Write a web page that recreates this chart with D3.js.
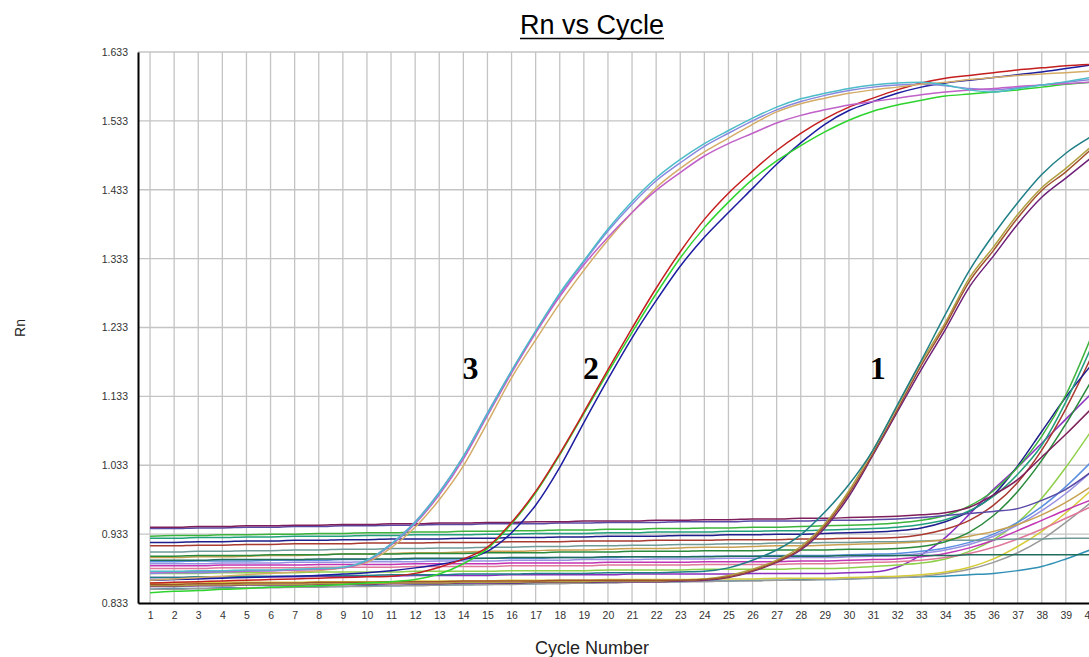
<!DOCTYPE html>
<html><head><meta charset="utf-8">
<script src="https://cdn.jsdelivr.net/npm/d3@7"></script>
<style>
body{margin:0;background:#fff;}
svg{display:block;font-family:"Liberation Sans",Arial,sans-serif;}
</style>
</head><body>
<svg id="chart" width="1089" height="657"></svg>
<script>
// ---------- DATA ----------
const cycles = [1,2,3,4,5,6,7,8,9,10,11,12,13,14,15,16,17,18,19,20,21,22,23,24,25,26,27,28,29,30,31,32,33,34,35,36,37,38,39,40];
const yTickValues = [0.833,0.933,1.033,1.133,1.233,1.333,1.433,1.533,1.633];
const yTickLabels = ["0.833","0.933","1.033","1.133","1.233","1.333","1.433","1.533","1.633"];
const groupLabels = ["3","2","1"];
const groupLabelCycles = [14.3, 19.3, 31.2];
const groupLabelValue = 1.158;

// baseline / late curves
const bMaroonTop = [0.943,0.943,0.944,0.944,0.945,0.945,0.946,0.946,0.947,0.947,0.948,0.948,0.949,0.949,0.950,0.950,0.951,0.951,0.952,0.952,0.952,0.953,0.953,0.954,0.954,0.955,0.955,0.956,0.956,0.957,0.958,0.959,0.961,0.964,0.972,0.990,1.012,1.045,1.078,1.113];
const bSlate = [0.941,0.941,0.942,0.942,0.943,0.943,0.944,0.944,0.945,0.945,0.946,0.946,0.947,0.947,0.948,0.948,0.948,0.949,0.949,0.950,0.950,0.950,0.951,0.951,0.951,0.952,0.952,0.952,0.953,0.953,0.954,0.955,0.957,0.960,0.963,0.966,0.970,0.982,0.998,1.022];
const bGreen = [0.930,0.931,0.931,0.932,0.932,0.933,0.933,0.934,0.934,0.935,0.935,0.936,0.936,0.937,0.937,0.938,0.938,0.939,0.939,0.940,0.940,0.941,0.941,0.942,0.942,0.943,0.943,0.944,0.945,0.946,0.947,0.949,0.953,0.960,0.974,0.996,1.030,1.075,1.135,1.215];
const bTealGreen = [0.927,0.927,0.928,0.928,0.929,0.929,0.930,0.930,0.930,0.931,0.931,0.932,0.932,0.932,0.933,0.933,0.934,0.934,0.934,0.935,0.935,0.936,0.936,0.936,0.937,0.937,0.938,0.938,0.939,0.940,0.941,0.943,0.947,0.954,0.967,0.988,1.020,1.062,1.125,1.200];
const bNavy = [0.921,0.921,0.922,0.922,0.923,0.923,0.924,0.924,0.925,0.925,0.926,0.926,0.926,0.927,0.927,0.928,0.928,0.929,0.929,0.930,0.930,0.930,0.931,0.931,0.932,0.932,0.933,0.933,0.934,0.935,0.936,0.938,0.942,0.951,0.966,0.990,1.032,1.082,1.132,1.176];
const bRedBrown = [0.916,0.916,0.917,0.917,0.918,0.918,0.919,0.919,0.919,0.920,0.920,0.920,0.921,0.921,0.921,0.922,0.922,0.922,0.923,0.923,0.923,0.924,0.924,0.924,0.925,0.925,0.925,0.926,0.926,0.927,0.927,0.928,0.932,0.940,0.953,0.975,1.008,1.055,1.115,1.186];
const bDarkGreen = [0.901,0.901,0.902,0.902,0.902,0.903,0.903,0.903,0.904,0.904,0.904,0.905,0.905,0.905,0.906,0.906,0.906,0.907,0.907,0.907,0.908,0.908,0.908,0.909,0.909,0.909,0.910,0.910,0.910,0.911,0.911,0.912,0.915,0.922,0.936,0.960,0.995,1.040,1.093,1.152];
const bTan = [0.899,0.899,0.900,0.900,0.901,0.902,0.902,0.903,0.904,0.904,0.905,0.906,0.906,0.907,0.908,0.908,0.909,0.910,0.910,0.911,0.912,0.912,0.913,0.914,0.914,0.915,0.916,0.916,0.917,0.918,0.919,0.920,0.922,0.925,0.930,0.937,0.947,0.961,0.979,1.001];
const bGrayTeal = [0.907,0.907,0.908,0.908,0.909,0.909,0.910,0.910,0.911,0.911,0.912,0.912,0.913,0.913,0.914,0.914,0.915,0.915,0.916,0.916,0.917,0.917,0.918,0.918,0.919,0.919,0.920,0.920,0.921,0.921,0.922,0.922,0.923,0.924,0.924,0.925,0.926,0.926,0.927,0.927];
const bLightBlue = [0.893,0.893,0.894,0.894,0.894,0.895,0.895,0.895,0.896,0.896,0.896,0.897,0.897,0.897,0.898,0.898,0.898,0.899,0.899,0.899,0.900,0.900,0.900,0.901,0.901,0.901,0.902,0.902,0.902,0.903,0.904,0.905,0.908,0.913,0.921,0.933,0.950,0.973,1.002,1.036];
const bLavender = [0.890,0.890,0.890,0.891,0.891,0.891,0.892,0.892,0.892,0.893,0.893,0.893,0.894,0.894,0.894,0.895,0.895,0.895,0.896,0.896,0.896,0.897,0.897,0.897,0.898,0.898,0.898,0.899,0.899,0.900,0.901,0.902,0.905,0.910,0.918,0.930,0.946,0.967,0.992,1.022];
const bMagenta = [0.887,0.887,0.887,0.888,0.888,0.888,0.888,0.889,0.889,0.889,0.889,0.890,0.890,0.890,0.890,0.891,0.891,0.891,0.891,0.892,0.892,0.892,0.892,0.893,0.893,0.893,0.893,0.894,0.894,0.895,0.896,0.897,0.900,0.905,0.913,0.924,0.938,0.953,0.968,0.982];
const bPink = [0.883,0.883,0.883,0.884,0.884,0.884,0.884,0.885,0.885,0.885,0.885,0.886,0.886,0.886,0.886,0.887,0.887,0.887,0.887,0.888,0.888,0.888,0.888,0.889,0.889,0.889,0.889,0.890,0.890,0.891,0.892,0.893,0.895,0.899,0.905,0.914,0.926,0.940,0.956,0.972];
const bDarkGreenFlat = [0.895,0.895,0.895,0.896,0.896,0.896,0.896,0.897,0.897,0.897,0.897,0.898,0.898,0.898,0.898,0.899,0.899,0.899,0.899,0.900,0.900,0.900,0.900,0.900,0.901,0.901,0.901,0.901,0.901,0.902,0.902,0.902,0.902,0.902,0.903,0.903,0.903,0.903,0.903,0.903];
const bLightGreen = [0.876,0.876,0.876,0.877,0.877,0.877,0.877,0.878,0.878,0.878,0.878,0.879,0.879,0.879,0.879,0.880,0.880,0.880,0.880,0.881,0.881,0.881,0.881,0.882,0.882,0.882,0.882,0.883,0.883,0.884,0.886,0.888,0.891,0.897,0.908,0.925,0.950,0.985,1.030,1.080];
const bViolet = [0.870,0.870,0.870,0.871,0.871,0.871,0.871,0.872,0.872,0.872,0.872,0.873,0.873,0.873,0.873,0.874,0.874,0.874,0.874,0.874,0.875,0.875,0.875,0.875,0.875,0.876,0.876,0.876,0.876,0.877,0.878,0.885,0.903,0.928,0.962,0.998,1.030,1.065,1.100,1.135];
const bYellow = [0.862,0.862,0.862,0.863,0.863,0.863,0.863,0.864,0.864,0.864,0.864,0.865,0.865,0.865,0.865,0.866,0.866,0.866,0.866,0.867,0.867,0.867,0.867,0.868,0.868,0.868,0.869,0.869,0.869,0.870,0.871,0.872,0.874,0.878,0.885,0.897,0.915,0.937,0.964,0.995];
const bGray = [0.853,0.853,0.854,0.854,0.855,0.855,0.856,0.856,0.857,0.857,0.858,0.858,0.859,0.859,0.860,0.860,0.861,0.861,0.862,0.862,0.863,0.863,0.864,0.864,0.865,0.865,0.866,0.866,0.867,0.868,0.869,0.870,0.872,0.876,0.882,0.892,0.906,0.925,0.950,0.978];
const bTealBlue = [0.853,0.854,0.854,0.855,0.855,0.856,0.856,0.857,0.857,0.858,0.858,0.859,0.859,0.860,0.860,0.861,0.861,0.862,0.862,0.863,0.863,0.864,0.864,0.865,0.865,0.866,0.866,0.867,0.867,0.868,0.869,0.870,0.871,0.872,0.874,0.876,0.880,0.886,0.897,0.910];

// group 1 (late amplification)
const g1Teal = [0.870,0.870,0.871,0.871,0.872,0.872,0.872,0.873,0.873,0.873,0.874,0.874,0.874,0.875,0.875,0.875,0.876,0.876,0.876,0.877,0.877,0.877,0.878,0.879,0.884,0.895,0.910,0.932,0.965,1.005,1.055,1.120,1.185,1.252,1.316,1.368,1.414,1.455,1.486,1.509];
const g1Brown = [0.860,0.860,0.861,0.861,0.862,0.862,0.862,0.863,0.863,0.863,0.864,0.864,0.864,0.865,0.865,0.865,0.865,0.866,0.866,0.866,0.866,0.866,0.866,0.867,0.871,0.880,0.893,0.912,0.945,0.992,1.050,1.113,1.178,1.236,1.300,1.345,1.392,1.432,1.459,1.490];
const g1Olive = [0.858,0.858,0.859,0.859,0.860,0.860,0.860,0.861,0.861,0.861,0.862,0.862,0.862,0.863,0.863,0.863,0.864,0.864,0.864,0.865,0.865,0.865,0.866,0.868,0.873,0.882,0.895,0.915,0.948,0.996,1.055,1.118,1.183,1.240,1.305,1.350,1.397,1.436,1.464,1.494];
const g1Purple = [0.857,0.857,0.858,0.858,0.859,0.859,0.859,0.860,0.860,0.860,0.861,0.861,0.861,0.862,0.862,0.862,0.863,0.863,0.863,0.864,0.864,0.864,0.865,0.866,0.870,0.879,0.892,0.910,0.942,0.988,1.048,1.110,1.172,1.230,1.292,1.337,1.383,1.422,1.450,1.478];

// group 2
const g2Red = [0.862,0.863,0.864,0.865,0.866,0.867,0.868,0.869,0.870,0.871,0.872,0.876,0.885,0.897,0.914,0.950,0.995,1.050,1.110,1.172,1.232,1.290,1.343,1.390,1.428,1.460,1.490,1.515,1.536,1.553,1.566,1.578,1.588,1.595,1.599,1.603,1.607,1.610,1.613,1.615];
const g2Green = [0.848,0.850,0.851,0.853,0.854,0.856,0.857,0.858,0.860,0.862,0.864,0.867,0.875,0.890,0.912,0.948,0.993,1.048,1.108,1.168,1.226,1.282,1.334,1.378,1.415,1.448,1.475,1.497,1.517,1.534,1.547,1.556,1.563,1.569,1.572,1.575,1.578,1.582,1.586,1.589];
const g2Navy = [0.866,0.867,0.868,0.869,0.870,0.871,0.872,0.873,0.875,0.877,0.880,0.884,0.889,0.896,0.908,0.935,0.975,1.030,1.095,1.158,1.218,1.272,1.322,1.364,1.400,1.435,1.470,1.501,1.528,1.548,1.561,1.573,1.582,1.588,1.592,1.596,1.600,1.604,1.609,1.614];

// group 3
const g3Lavender = [0.876,0.877,0.877,0.878,0.879,0.880,0.881,0.882,0.884,0.895,0.919,0.951,0.994,1.046,1.109,1.170,1.227,1.281,1.328,1.373,1.412,1.446,1.472,1.496,1.515,1.533,1.549,1.561,1.570,1.577,1.582,1.585,1.586,1.584,1.580,1.578,1.581,1.585,1.589,1.593];
const g3Tan = [0.866,0.868,0.870,0.872,0.874,0.876,0.878,0.880,0.884,0.892,0.913,0.943,0.983,1.032,1.095,1.160,1.215,1.268,1.316,1.360,1.400,1.436,1.464,1.488,1.508,1.528,1.546,1.558,1.566,1.573,1.578,1.582,1.586,1.589,1.593,1.596,1.599,1.601,1.603,1.605];
const g3Orchid = [0.878,0.878,0.879,0.879,0.880,0.880,0.881,0.882,0.884,0.894,0.917,0.948,0.990,1.042,1.105,1.167,1.225,1.278,1.324,1.364,1.400,1.432,1.458,1.482,1.500,1.515,1.530,1.541,1.549,1.556,1.561,1.566,1.571,1.575,1.578,1.580,1.583,1.585,1.587,1.589];
const g3Cyan = [0.879,0.879,0.880,0.880,0.881,0.881,0.882,0.883,0.885,0.895,0.918,0.950,0.993,1.046,1.108,1.170,1.228,1.283,1.330,1.376,1.416,1.450,1.477,1.500,1.519,1.537,1.553,1.565,1.573,1.580,1.585,1.588,1.589,1.585,1.578,1.575,1.580,1.585,1.590,1.596];

// drawing order and colours (styles kept apart from the data)
const curves = [
  [bTealBlue,"#2f8fb5"],[bGray,"#9a9a9a"],[bYellow,"#d6cc3a"],[bViolet,"#8a2fbf"],[bLightGreen,"#8fd04a"],
  [bPink,"#e0789c"],[bMagenta,"#c234b4"],[bLavender,"#9890e2"],[bLightBlue,"#5a8ee0"],[bDarkGreenFlat,"#1f6e5c"],
  [bGrayTeal,"#6f9a98"],[bTan,"#c8a050"],[bDarkGreen,"#2a8a3c"],[bRedBrown,"#a83a30"],[bNavy,"#1e1e8c"],
  [bTealGreen,"#22a07c"],[bGreen,"#3cb43c"],[bSlate,"#5a4aa6"],[bMaroonTop,"#7e1e5a"],
  [g1Purple,"#6e2078"],[g1Olive,"#b0a040"],[g1Brown,"#a0522d"],[g1Teal,"#1f7f86"],
  [g2Navy,"#1c1ca0"],[g2Green,"#2ed32e"],[g2Red,"#c41e1e"],
  [g3Lavender,"#8888e0"],[g3Tan,"#d4ac68"],[g3Orchid,"#c060c8"],[g3Cyan,"#4cbcc8"]
];

// ---------- CHART ----------
const svg = d3.select("#chart");
const x = d3.scaleLinear().domain([0.5, 40.5]).range([138, 1102]);
const y = d3.scaleLinear().domain([0.833, 1.633]).range([603, 52]);

// grid
const grid = svg.append("g");
grid.selectAll("line.v").data(cycles).join("line")
  .attr("x1", d => x(d)).attr("x2", d => x(d))
  .attr("y1", y(1.633)).attr("y2", y(0.833))
  .attr("stroke", "#c4c4c4").attr("stroke-width", 1.3);
grid.selectAll("line.h").data(yTickValues.slice(1)).join("line")
  .attr("x1", x(0.5)).attr("x2", x(40.5))
  .attr("y1", d => y(d)).attr("y2", d => y(d))
  .attr("stroke", "#c4c4c4").attr("stroke-width", 1.3);

// curves
const line = d3.line().x((d, i) => x(cycles[i])).y(d => y(d)).curve(d3.curveMonotoneX);
svg.append("g").selectAll("path").data(curves).join("path")
  .attr("d", d => line(d[0]))
  .attr("fill", "none").attr("stroke", d => d[1]).attr("stroke-width", 1.5);

// axes
const yAxis = d3.axisLeft(y).tickValues(yTickValues).tickFormat((d, i) => yTickLabels[i]).tickSize(0).tickPadding(10);
const gy = svg.append("g").attr("transform", `translate(${x(0.5)},0)`).call(yAxis);
gy.select(".domain").attr("stroke", "#000").attr("stroke-width", 2);
gy.selectAll("text").attr("font-size", 10.5).attr("fill", "#333").attr("font-family", '"Liberation Sans",Arial,sans-serif');

const xAxis = d3.axisBottom(x).tickValues(cycles).tickFormat(d3.format("d")).tickSize(0).tickPadding(9);
const gx = svg.append("g").attr("transform", `translate(0,${y(0.833)})`).call(xAxis);
gx.select(".domain").attr("stroke", "#000").attr("stroke-width", 2);
gx.selectAll("text").attr("font-size", 10.5).attr("fill", "#333").attr("font-family", '"Liberation Sans",Arial,sans-serif');

// group labels
svg.append("g").selectAll("text").data(groupLabels).join("text")
  .attr("x", (d, i) => x(groupLabelCycles[i])).attr("y", y(groupLabelValue))
  .attr("text-anchor", "middle")
  .attr("font-family", '"Liberation Serif","Times New Roman",serif')
  .attr("font-weight", "bold").attr("font-size", 32).attr("fill", "#000")
  .text(d => d);

// title
const title = svg.append("text").attr("x", 592).attr("y", 34).attr("text-anchor", "middle")
  .attr("font-size", 27).attr("fill", "#000").text("Rn vs Cycle");
const tw = title.node().getComputedTextLength();
svg.append("line").attr("x1", 592 - tw / 2).attr("x2", 592 + tw / 2)
  .attr("y1", 38.5).attr("y2", 38.5).attr("stroke", "#000").attr("stroke-width", 1.6);

// axis titles
svg.append("text").attr("transform", "translate(25,328) rotate(-90)").attr("text-anchor", "middle")
  .attr("font-size", 14).attr("fill", "#222").text("Rn");
svg.append("text").attr("x", 592).attr("y", 654).attr("text-anchor", "middle")
  .attr("font-size", 18).attr("fill", "#222").text("Cycle Number");
</script>
</body></html>
